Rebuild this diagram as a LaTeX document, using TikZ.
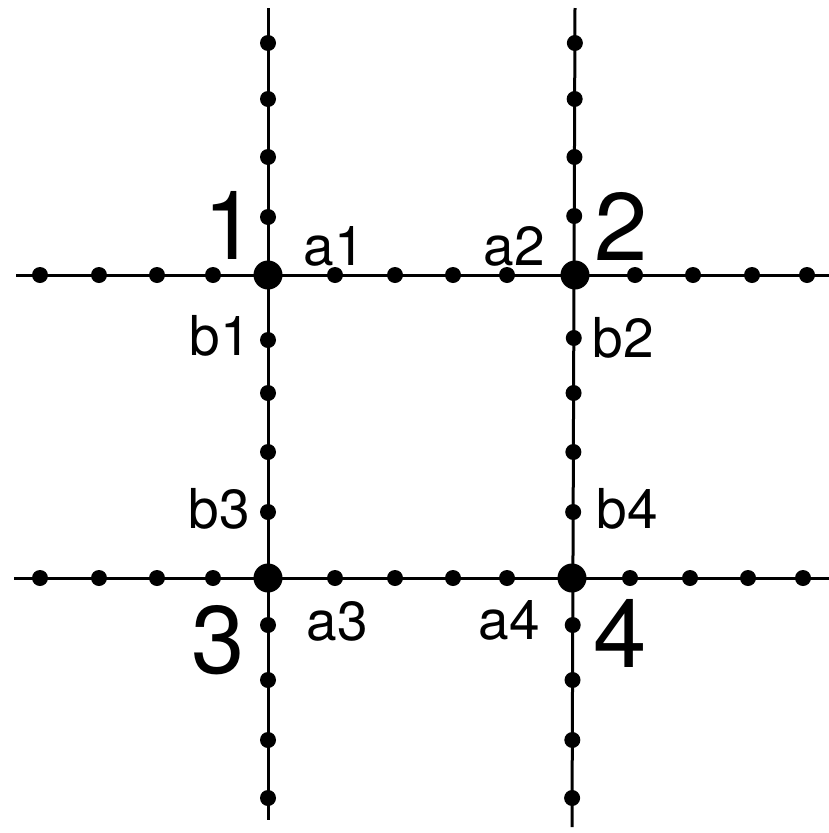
\documentclass[tikz,border=0pt]{standalone}
\usepackage{fontspec}
\setmainfont{TeX Gyre Heros}
\usetikzlibrary{calc}

\begin{document}
\begin{tikzpicture}[x=1pt,y=-1pt,
  dot/.style={circle,fill=black,inner sep=0pt,minimum size=16pt},
  junction/.style={circle,fill=black,inner sep=0pt,minimum size=29pt},
  bignum/.style={inner sep=0pt,font=\fontsize{96}{96}\selectfont},
  lbl/.style={inner sep=0pt,font=\fontsize{55}{55}\selectfont},
  wire/.style={line width=3pt}]
\useasboundingbox (0,0) rectangle (829,833);
% ends of the four lines
\coordinate (h1w) at (16,275);  \coordinate (h1e) at (829,275);
\coordinate (h2w) at (14,578);  \coordinate (h2e) at (829,578);
\coordinate (v1n) at (268,8);   \coordinate (v1s) at (268,820);
\coordinate (v2n) at (575,8);   \coordinate (v2s) at (572,827);
\draw[wire] (h1w) -- (h1e);
\draw[wire] (h2w) -- (h2e);
\draw[wire] (v1n) -- (v1s);
\draw[wire] (v2n) -- (v2s);
% junctions
\node[junction] (j1) at (268,275) {};
\node[junction] (j2) at (575,275) {};
\node[junction] (j3) at (268,578) {};
\node[junction] (j4) at (572,578) {};
% small dots
\foreach \x [count=\i] in {40,99,157,213,335,395,453,507,635,693,752,807}
  \node[dot] (ha\i) at (\x,275) {};
\foreach \x [count=\i] in {40,99,157,213,335,395,453,507,630,690,748,803}
  \node[dot] (hb\i) at (\x,578) {};
\foreach \y [count=\i] in {43,99,157,217,340,393,452,512,625,680,740,798}
  \node[dot] (va\i) at (268,\y) {};
\foreach \y [count=\i] in {43,99,157,216,338,393,452,512,625,680,740,798}
  \node[dot] (vb\i) at ($(v2n)!{(\y-8)/819}!(v2s)$) {};
% labels
\node[bignum] (n1) at (230,225) {1};
\node[bignum] (n2) at (621,226) {2};
\node[bignum] (n3) at (218,640) {3};
\node[bignum] (n4) at (620,633) {4};
\node[lbl] (a1) at (334,246) {a1};
\node[lbl] (a2) at (514,246) {a2};
\node[lbl] (a3) at (337,621) {a3};
\node[lbl] (a4) at (509,620) {a4};
\node[lbl] (b1) at (220,336) {b1};
\node[lbl] (b2) at (623,338) {b2};
\node[lbl] (b3) at (219,509) {b3};
\node[lbl] (b4) at (627,509) {b4};
\end{tikzpicture}
\end{document}
